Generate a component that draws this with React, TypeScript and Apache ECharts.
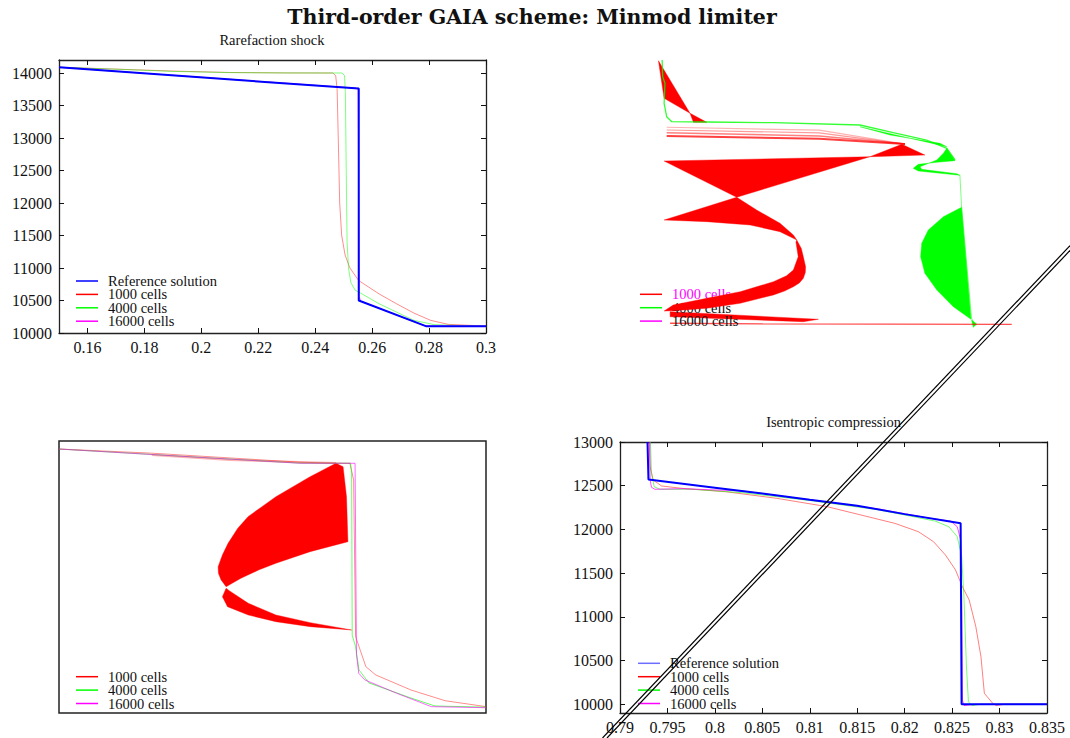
import React, { useEffect, useRef } from 'react';
import * as echarts from 'echarts';

const SERIF = '"Liberation Serif", "Times New Roman", serif';

// ---------- Panel 1: Rarefaction shock ----------
const p1XTicks = [0.16, 0.18, 0.2, 0.22, 0.24, 0.26, 0.28, 0.3];
const p1YTicks = [10000, 10500, 11000, 11500, 12000, 12500, 13000, 13500, 14000];
const p1Reference = [[0.15, 14088], [0.2553, 13760], [0.2553, 10500], [0.2791, 10102], [0.3, 10102]];
const p1Cells16000 = [[0.15, 14088], [0.254, 13768], [0.2551, 13750], [0.2554, 10560], [0.256, 10488], [0.2785, 10110], [0.3, 10102]];
const p1Cells1000 = [[0.15, 14088], [0.17, 14060], [0.19, 14030], [0.21, 14008], [0.23, 14001], [0.2462, 14000], [0.2472, 13960], [0.2477, 13750], [0.2481, 13000], [0.2486, 12000], [0.2493, 11500], [0.2505, 11200], [0.2522, 11000], [0.2553, 10806], [0.2625, 10600], [0.2686, 10449], [0.2747, 10306], [0.2806, 10194], [0.2867, 10133], [0.3, 10107]];
const p1Cells4000 = [[0.15, 14088], [0.17, 14058], [0.19, 14025], [0.21, 14006], [0.23, 14001], [0.2495, 14000], [0.2503, 13960], [0.2506, 13700], [0.2509, 12500], [0.2512, 11400], [0.2517, 11000], [0.2525, 10780], [0.254, 10660], [0.2565, 10600], [0.2625, 10449], [0.2747, 10194], [0.2819, 10128], [0.3, 10102]];

// ---------- Panel 2: (damaged) ----------
const p2Green = [[0.1648, 14200], [0.165, 13943], [0.1658, 13841], [0.1655, 13534], [0.1664, 13328], [0.1682, 13251], [0.1805, 13246], [0.2039, 13235], [0.2343, 13200], [0.246, 13082], [0.2577, 12969], [0.2648, 12841], [0.2677, 12662]];
const p2GreenDrop = [[0.2694, 12431], [0.27, 11934], [0.2735, 10226], [0.2747, 10123]];
const p2RedStreakA = [[0.1664, 13165], [0.22, 13120], [0.2501, 12907]];
const p2RedStreakB = [[0.1664, 13123], [0.22, 13080], [0.2501, 12907]];
const p2RedStreakC = [[0.1664, 13082], [0.22, 13030], [0.2501, 12907]];
const p2RedStreakD = [[0.1664, 13031], [0.22, 12990], [0.2501, 12907]];
const p2RedBottom = [[0.1676, 10150], [0.2, 10140], [0.2876, 10132]];
const p2RedWedge = [[0.1635, 14189], [0.1655, 13611], [0.1746, 13380]];
const p2RedWedgeTail = [[0.1746, 13380], [0.1805, 13241], [0.1758, 13241]];
const p2RedBowTop = [[0.1655, 12646], [0.2378, 12712], [0.191, 12088]];
const p2RedBowRight = [[0.2378, 12712], [0.249, 12903], [0.2571, 12738]];
const p2RedCurved = [[0.1655, 11738], [0.191, 12088], [0.198, 11892], [0.2062, 11688], [0.2109, 11508], [0.2121, 11431], [0.2109, 11457], [0.2062, 11559], [0.1957, 11662], [0.1805, 11713]];
const p2RedCrescent = [[0.2121, 11431], [0.2137, 11300], [0.2144, 11174], [0.2152, 11020], [0.2151, 10930], [0.2144, 10841], [0.213, 10770], [0.2109, 10712], [0.2078, 10645], [0.2039, 10585], [0.1922, 10457], [0.1805, 10380], [0.1687, 10343], [0.1655, 10338], [0.1687, 10431], [0.1805, 10534], [0.1922, 10635], [0.2039, 10789], [0.2085, 10880], [0.2109, 10969], [0.2126, 11174], [0.2118, 11400]];
const p2RedSliver = [[0.1676, 10328], [0.2197, 10211], [0.2144, 10174], [0.1676, 10251]];
const p2GreenCurl = [[0.2648, 12842], [0.2677, 12651], [0.2613, 12626], [0.2548, 12595], [0.253, 12534], [0.2548, 12492], [0.2694, 12426], [0.2683, 12451], [0.256, 12518], [0.2554, 12558], [0.2613, 12662], [0.2636, 12765]];
const p2GreenFan = [[0.2343, 13174], [0.2648, 12866], [0.2624, 12918], [0.2449, 13046]];
const p2GreenD = [[0.27, 11934], [0.2733, 10211], [0.2671, 10405], [0.2613, 10661], [0.2571, 10918], [0.2556, 11174], [0.256, 11380], [0.2583, 11585], [0.2636, 11789]];
const p2GreenTip = [[0.2735, 10200], [0.2753, 10138], [0.2741, 10087]];

// ---------- Panel 3: (axes lost) ----------
const p3Cells1000 = [[0.15, 14076], [0.1826, 14012], [0.2347, 13872], [0.2473, 13858], [0.2522, 13856], [0.2535, 13600], [0.2542, 11179], [0.2578, 10715], [0.2613, 10587], [0.2736, 10356], [0.2856, 10190], [0.3, 10098]];
const p3Cells1000Band = [[0.1826, 13985], [0.21, 13905], [0.2473, 13862]];
const p3Cells4000 = [[0.15, 14076], [0.2347, 13858], [0.2524, 13856], [0.2528, 13700], [0.253, 11200], [0.2542, 11024], [0.2554, 10664], [0.2589, 10464], [0.2736, 10232], [0.2821, 10108], [0.3, 10090]];
const p3Cells16000 = [[0.15, 14076], [0.2347, 13856], [0.254, 13856], [0.2545, 10900], [0.2553, 10613], [0.2575, 10510], [0.2686, 10305], [0.2808, 10098], [0.3, 10082]];
const p3RedUpper = [[0.2473, 13856], [0.2382, 13649], [0.2322, 13494], [0.2262, 13340], [0.2213, 13186], [0.2164, 13032], [0.2128, 12852], [0.2094, 12621], [0.2074, 12440], [0.2059, 12259], [0.206, 12157], [0.2069, 12058], [0.2087, 11950], [0.2139, 12080], [0.2201, 12208], [0.2262, 12312], [0.2382, 12491], [0.2515, 12645], [0.251, 13340], [0.2498, 13803]];
const p3RedLower = [[0.2087, 11926], [0.2074, 11796], [0.2092, 11642], [0.2165, 11513], [0.2262, 11410], [0.2383, 11333], [0.2528, 11282], [0.2383, 11395], [0.2262, 11513], [0.2165, 11694], [0.2098, 11889]];

// ---------- Panel 4: Isentropic compression ----------
const p4XTicks = [0.79, 0.795, 0.8, 0.805, 0.81, 0.815, 0.82, 0.825, 0.83, 0.835];
const p4YTicks = [10000, 10500, 11000, 11500, 12000, 12500, 13000];
const p4Reference = [[0.7929, 13000], [0.793, 12570], [0.8, 12478], [0.805, 12410], [0.81, 12340], [0.815, 12272], [0.82, 12175], [0.8259, 12070], [0.826, 10000], [0.835, 10000]];
const p4Cells1000 = [[0.79307, 13000], [0.79317, 12717], [0.7935, 12565], [0.79438, 12497], [0.79652, 12470], [0.80115, 12431], [0.8065, 12356], [0.81184, 12260], [0.81539, 12165], [0.81895, 12070], [0.82145, 11974], [0.82305, 11859], [0.8243, 11707], [0.82536, 11536], [0.82608, 11345], [0.8268, 11192], [0.8275, 10887], [0.82804, 10544], [0.8284, 10125], [0.82928, 10011], [0.82964, 9985], [0.8305, 10000], [0.835, 10000]];
const p4Cells4000 = [[0.79321, 13000], [0.79332, 12642], [0.7936, 12489], [0.7942, 12459], [0.79759, 12459], [0.80293, 12420], [0.81006, 12330], [0.81717, 12225], [0.82073, 12150], [0.82323, 12095], [0.82466, 12030], [0.82554, 11917], [0.82601, 11688], [0.82626, 11192], [0.82651, 10430], [0.82672, 10029], [0.82708, 9985], [0.828, 10000], [0.835, 10000]];
const p4Cells16000 = [[0.79314, 13000], [0.79317, 12565], [0.79332, 12482], [0.79368, 12459], [0.79652, 12466], [0.80293, 12440], [0.81006, 12338], [0.81717, 12235], [0.82252, 12130], [0.82484, 12095], [0.82554, 12031], [0.8259, 11879], [0.82601, 11192], [0.82608, 10048], [0.82626, 9985], [0.8275, 10000], [0.835, 10000]];

const RED = '#ff0000';
const GREEN = '#00ff00';
const MAGENTA = '#ff00ff';
const BLUE = '#0000ff';

function line(name: string, data: number[][], idx: number, color: string, width: number, opacity: number, z = 2) {
  return {
    type: 'line', name, data, xAxisIndex: idx, yAxisIndex: idx,
    showSymbol: false, symbol: 'none', silent: true, z,
    lineStyle: { color, width, opacity }, itemStyle: { color },
  };
}

function polys(name: string, shapes: number[][][], idx: number, color: string, z = 2) {
  return {
    type: 'custom', name, xAxisIndex: idx, yAxisIndex: idx, silent: true, z, clip: false,
    data: shapes.map((s, i) => [s[0][0], s[0][1], i]),
    encode: { x: 0, y: 1 },
    renderItem: (params: any, api: any) => {
      const shape = shapes[params.dataIndex];
      return {
        type: 'polygon',
        shape: { points: shape.map((p) => api.coord(p)) },
        style: { fill: color, stroke: color, lineWidth: 0.4 },
      };
    },
  };
}

const labelStyle = { fontFamily: SERIF, fontSize: 16, color: '#111' };
const axisLineStyle = { show: true, onZero: false, lineStyle: { color: '#222', width: 1.3 } };

function mainAxis(grid: number, position: string, min: number, max: number, ticks: number[], isY: boolean) {
  return {
    type: 'value', gridIndex: grid, position, min, max,
    splitLine: { show: false },
    axisLine: axisLineStyle,
    axisTick: { show: true, inside: true, length: 5, customValues: ticks, lineStyle: { color: '#111', width: 1 } },
    axisLabel: { show: true, customValues: ticks, margin: isY ? 7 : 6, ...labelStyle, formatter: (v: number) => String(v) },
  };
}
function mirrorAxis(grid: number, position: string, min: number, max: number, ticks: number[]) {
  return {
    type: 'value', gridIndex: grid, position, min, max,
    splitLine: { show: false },
    axisLine: axisLineStyle,
    axisTick: { show: true, inside: true, length: 5, customValues: ticks, lineStyle: { color: '#111', width: 1 } },
    axisLabel: { show: false },
  };
}
function hiddenAxis(grid: number, min: number, max: number) {
  return { type: 'value', gridIndex: grid, show: false, min, max, splitLine: { show: false } };
}

function legend(left: number, top: number, items: any[]) {
  return {
    left, top, orient: 'vertical', padding: 0, itemGap: -1.6, itemWidth: 22, itemHeight: 1.5,
    icon: 'rect', selectedMode: false,
    textStyle: { fontFamily: SERIF, fontSize: 14.5, lineHeight: 13.4, color: '#111', padding: [0, 0, 0, 5] },
    data: items,
  };
}

function buildOption() {
  return {
    animation: false,
    backgroundColor: '#ffffff',
    grid: [
      { left: 59, top: 60, width: 427, height: 273, outerBoundsMode: 'none' },
      { left: 620, top: 60, width: 427, height: 273, outerBoundsMode: 'none' },
      { left: 59, top: 441, width: 427, height: 272, outerBoundsMode: 'none', show: true, borderColor: '#222', borderWidth: 1.5, backgroundColor: 'transparent' },
      { left: 620, top: 442, width: 427, height: 271, outerBoundsMode: 'none' },
    ],
    xAxis: [
      mainAxis(0, 'bottom', 0.15, 0.3, p1XTicks, false),
      mirrorAxis(0, 'top', 0.15, 0.3, p1XTicks),
      hiddenAxis(1, 0.15, 0.3),
      hiddenAxis(2, 0.15, 0.3),
      mainAxis(3, 'bottom', 0.79, 0.835, p4XTicks, false),
      mirrorAxis(3, 'top', 0.79, 0.835, p4XTicks),
    ],
    yAxis: [
      mainAxis(0, 'left', 10000, 14200, p1YTicks, true),
      mirrorAxis(0, 'right', 10000, 14200, p1YTicks),
      hiddenAxis(1, 10000, 14200),
      hiddenAxis(2, 10000, 14200),
      mainAxis(3, 'left', 9900, 13000, p4YTicks, true),
      mirrorAxis(3, 'right', 9900, 13000, p4YTicks),
    ],
    legend: [
      legend(76, 273.5, [
        { name: 'Reference solution', itemStyle: { color: BLUE } },
        { name: '1000 cells', itemStyle: { color: RED } },
        { name: '4000 cells', itemStyle: { color: GREEN } },
        { name: '16000 cells', itemStyle: { color: MAGENTA } },
      ]),
      legend(640, 286.8, [
        { name: '1000 cells', itemStyle: { color: RED }, textStyle: { color: MAGENTA } },
        { name: '4000 cells', itemStyle: { color: GREEN } },
        { name: '16000 cells', itemStyle: { color: MAGENTA } },
      ]),
      legend(76, 669.2, [
        { name: '1000 cells', itemStyle: { color: RED } },
        { name: '4000 cells', itemStyle: { color: GREEN } },
        { name: '16000 cells', itemStyle: { color: MAGENTA } },
      ]),
      legend(638, 655.8, [
        { name: 'Reference solution', itemStyle: { color: 'rgba(60,60,255,0.75)' } },
        { name: '1000 cells', itemStyle: { color: RED } },
        { name: '4000 cells', itemStyle: { color: GREEN } },
        { name: '16000 cells', itemStyle: { color: MAGENTA } },
      ]),
    ],
    series: [
      // panel 1
      line('1000 cells', p1Cells1000, 0, RED, 1, 0.45),
      line('4000 cells', p1Cells4000, 0, GREEN, 1, 0.5),
      line('16000 cells', p1Cells16000, 0, MAGENTA, 1, 0.8),
      line('Reference solution', p1Reference, 0, BLUE, 2, 1, 3),
      // panel 2
      line('p2 trace green', p2Green, 2, GREEN, 1.3, 0.8),
      line('p2 trace green drop', p2GreenDrop, 2, GREEN, 1, 0.5),
      line('p2 streak a', p2RedStreakA, 2, RED, 1.2, 0.3),
      line('p2 streak b', p2RedStreakB, 2, RED, 1.2, 0.4),
      line('p2 streak c', p2RedStreakC, 2, RED, 1.5, 0.5),
      line('p2 streak d', p2RedStreakD, 2, RED, 2, 0.75),
      line('p2 bottom red', p2RedBottom, 2, RED, 1.3, 0.7),
      polys('p2 red shapes', [p2RedWedge, p2RedWedgeTail, p2RedBowTop, p2RedBowRight, p2RedCurved, p2RedSliver], 2, RED),
      polys('p2 green shapes', [p2GreenCurl, p2GreenFan, p2GreenD, p2GreenTip], 2, GREEN),
      polys('p2 red crescent', [p2RedCrescent], 2, RED, 6),
      // panel 3
      line('p3 1000 band', p3Cells1000Band, 3, RED, 2, 0.3),
      line('p3 1000', p3Cells1000, 3, RED, 1, 0.45),
      line('p3 4000', p3Cells4000, 3, GREEN, 1, 0.6),
      line('p3 16000', p3Cells16000, 3, MAGENTA, 1, 0.6),
      polys('p3 red shapes', [p3RedUpper, p3RedLower], 3, RED),
      // panel 4
      line('1000 cells', p4Cells1000, 4, RED, 1, 0.5),
      line('4000 cells', p4Cells4000, 4, GREEN, 1, 0.55),
      line('16000 cells', p4Cells16000, 4, MAGENTA, 1, 0.7),
      line('Reference solution', p4Reference, 4, BLUE, 2, 1, 3),
    ],
    graphic: [
      {
        type: 'text', x: 532, y: 16.5, z: 50,
        style: { text: 'Third-order GAIA scheme: Minmod limiter', fontFamily: '"DejaVu Serif", serif', fontWeight: 'bold', fontSize: 20.5, fill: '#111', textAlign: 'center', textVerticalAlign: 'middle' },
      },
      {
        type: 'text', x: 272, y: 40, z: 50,
        style: { text: 'Rarefaction shock', fontFamily: SERIF, fontSize: 14.5, fill: '#111', textAlign: 'center', textVerticalAlign: 'middle' },
      },
      {
        type: 'text', x: 833.6, y: 421.5, z: 50,
        style: { text: 'Isentropic compression', fontFamily: SERIF, fontSize: 14.5, fill: '#111', textAlign: 'center', textVerticalAlign: 'middle' },
      },
      { type: 'line', z: 100, shape: { x1: 602.5, y1: 738, x2: 1070, y2: 245.7 }, style: { stroke: '#000', lineWidth: 1.2 } },
      { type: 'line', z: 100, shape: { x1: 607, y1: 738, x2: 1070, y2: 250.5 }, style: { stroke: '#000', lineWidth: 1.2 } },
    ],
  };
}

export default function App() {
  const ref = useRef<HTMLDivElement>(null);
  useEffect(() => {
    if (!ref.current) return;
    const chart = echarts.init(ref.current, undefined, { renderer: 'svg' });
    chart.setOption(buildOption() as any);
    return () => chart.dispose();
  }, []);
  return <div ref={ref} style={{ position: 'fixed', left: 0, top: 0, width: 1070, height: 738 }} />;
}
